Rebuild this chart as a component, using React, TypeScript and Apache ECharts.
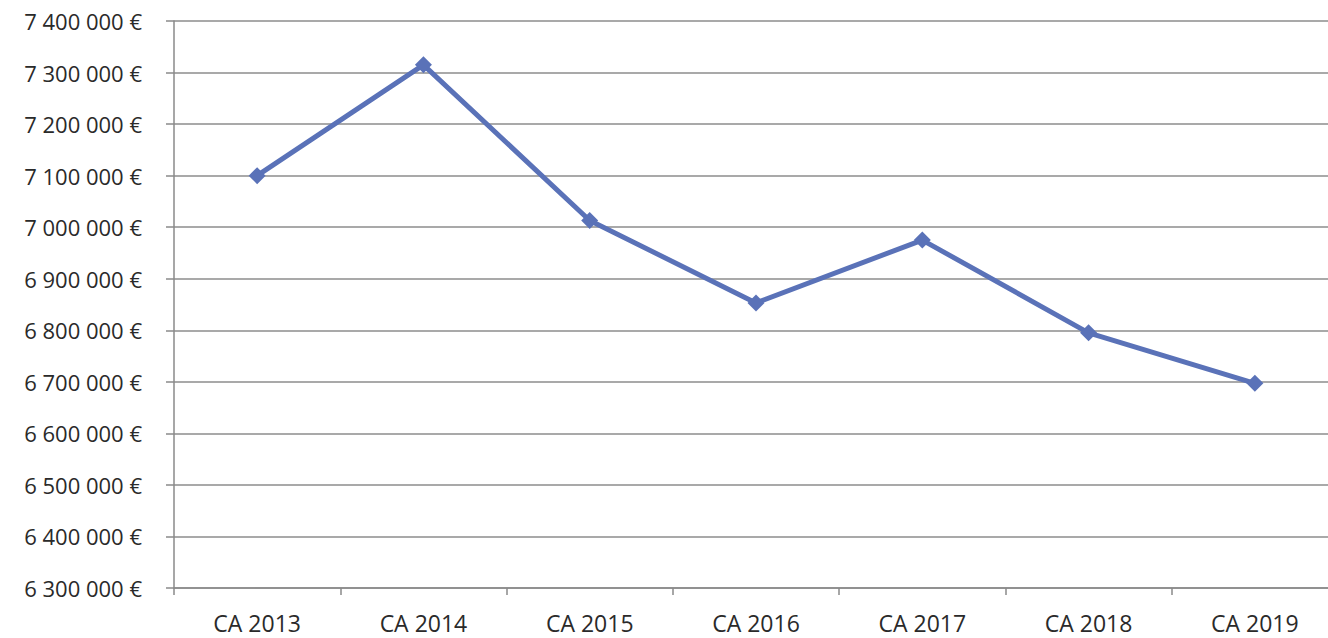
import React, { useEffect, useRef } from "react";
import * as echarts from "echarts";

const categories = ["CA 2013", "CA 2014", "CA 2015", "CA 2016", "CA 2017", "CA 2018", "CA 2019"];
const revenue = [7100000, 7315000, 7013000, 6853000, 6975000, 6795000, 6697000];
const yMin = 6300000;
const yMax = 7400000;
const yStep = 100000;

function fmt(v: number): string {
  const s = Math.round(v).toString();
  return s.replace(/\B(?=(\d{3})+(?!\d))/g, " ") + " €";
}

export default function App() {
  const ref = useRef<HTMLDivElement>(null);
  useEffect(() => {
    if (!ref.current) return;
    const chart = echarts.init(ref.current, undefined, { renderer: "svg" });
    const font = "'Open Sans', 'Liberation Sans', sans-serif";
    chart.setOption({
      animation: false,
      backgroundColor: "#ffffff",
      grid: { left: 174, right: 2, top: 21, bottom: 50, containLabel: false },
      xAxis: {
        type: "category",
        data: categories,
        boundaryGap: true,
        axisLine: { show: true, lineStyle: { color: "#8a8a8a", width: 1.5 } },
        axisTick: { show: true, alignWithLabel: false, length: 7, lineStyle: { color: "#8a8a8a", width: 1.5 } },
        axisLabel: { color: "#2a2a2a", fontSize: 23, fontFamily: font, margin: 23 },
        splitLine: { show: false },
      },
      yAxis: {
        type: "value",
        min: yMin,
        max: yMax,
        interval: yStep,
        axisLine: { show: true, lineStyle: { color: "#8a8a8a", width: 1.5 } },
        axisTick: { show: true, length: 8, lineStyle: { color: "#8a8a8a", width: 1.5 } },
        axisLabel: { color: "#2a2a2a", fontSize: 22, fontFamily: font, margin: 32, formatter: (v: number) => fmt(v) },
        splitLine: { show: true, lineStyle: { color: "#8c8c8c", width: 1.5 } },
      },
      series: [
        {
          type: "line",
          data: revenue,
          symbol: "diamond",
          symbolSize: 17,
          lineStyle: { color: "#5a72b8", width: 5 },
          itemStyle: { color: "#5a72b8" },
        },
      ],
    });
    return () => chart.dispose();
  }, []);
  return (
    <div style={{ position: "fixed", left: 0, top: 0, width: 1328, height: 638, overflow: "hidden", background: "#fff" }}>
      <div ref={ref} style={{ position: "absolute", left: 0, top: 0, width: 1340, height: 638 }} />
    </div>
  );
}
